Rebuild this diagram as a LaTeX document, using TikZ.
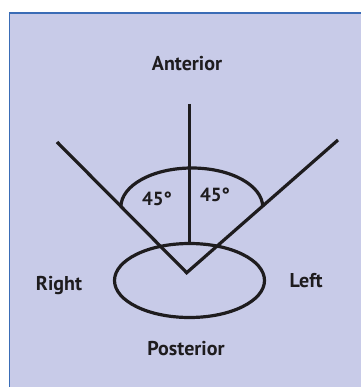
\documentclass[tikz,border=0pt]{standalone}
\usepackage{fontspec}
\usetikzlibrary{shapes.geometric}
\setmainfont{PT Sans}
\definecolor{panel}{RGB}{200,203,232}
\definecolor{frame}{RGB}{58,108,182}
\definecolor{ink}{RGB}{30,28,30}
\begin{document}
\begin{tikzpicture}[x=1pt,y=1pt,
  lbl/.style={inner sep=0pt,font=\fontsize{20}{22}\selectfont\bfseries,text=ink},
  deg/.style={inner sep=0pt,font=\fontsize{19}{21}\selectfont\bfseries,text=ink},
  heavy/.style={draw=ink,line width=3.2pt,line join=miter}]
\useasboundingbox (0,0) rectangle (361,-387);
\fill[panel] (9.5,-13) rectangle (361,-387);
\draw[frame,line width=1.6pt] (9.5,-387) -- (9.5,-13) -- (361,-13);
% named points
\coordinate (v) at (186.7,-272.7);
\coordinate (lt) at (57,-142);
\coordinate (rt) at (338,-140);
\coordinate (top) at (189.3,-104);
\coordinate (vb) at (189.3,-242);
% lines
\draw[heavy] (lt) -- (v) -- (rt);
\draw[heavy] (top) -- (vb);
% angle arc (upper half of an ellipse)
\draw[heavy] (120.9,-207) arc[start angle=180,end angle=0,x radius=70.9,y radius=39];
% head ellipse
\node[heavy,ellipse,minimum width=150pt,minimum height=74pt,inner sep=0pt] (head) at (189.5,-280.5) {};
% labels
\node[lbl] (ant) at (187,-64) {Anterior};
\node[lbl] (post) at (186,-349) {Posterior};
\node[lbl] (right) at (59,-286) {Right};
\node[lbl] (left) at (306,-281) {Left};
\node[deg] (d1) at (157,-199) {45°};
\node[deg] (d2) at (215,-195) {45°};
\end{tikzpicture}
\end{document}
